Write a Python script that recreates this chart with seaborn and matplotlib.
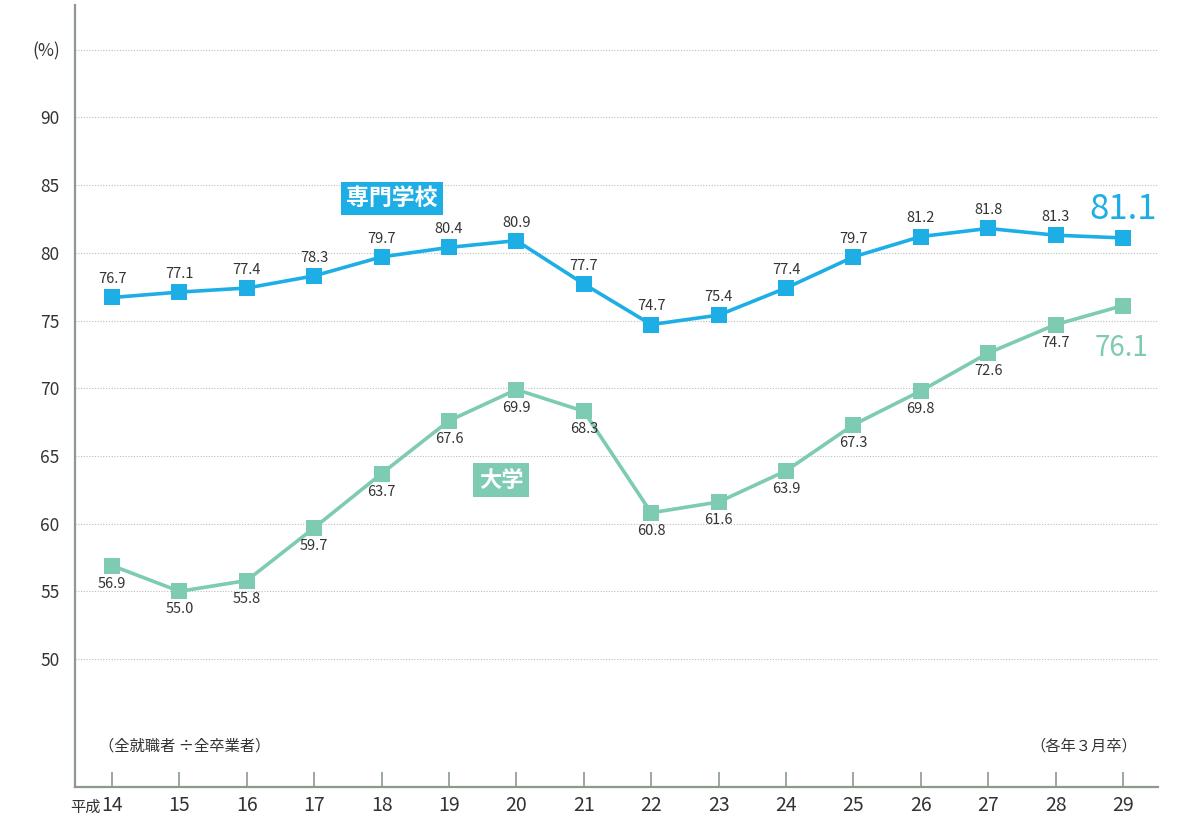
import pandas as pd
import numpy as np
import matplotlib.pyplot as plt
import seaborn as sns

sns.set_style("white")
plt.rcParams['font.family'] = ['Noto Sans CJK JP', 'DejaVu Sans']

# data (平成 year, % employed)
years = list(range(14, 30))
senmon = [76.7, 77.1, 77.4, 78.3, 79.7, 80.4, 80.9, 77.7, 74.7, 75.4, 77.4, 79.7, 81.2, 81.8, 81.3, 81.1]
daigaku = [56.9, 55.0, 55.8, 59.7, 63.7, 67.6, 69.9, 68.3, 60.8, 61.6, 63.9, 67.3, 69.8, 72.6, 74.7, 76.1]
y_ticks = [50, 55, 60, 65, 70, 75, 80, 85, 90, 95]
y_tick_labels = ['50', '55', '60', '65', '70', '75', '80', '85', '90', '(%)']

blue = '#1eaee6'
green = '#7ecbb4'
axis_col = '#8c998c'
txt = '#333333'

df = pd.DataFrame({'year': years, '専門学校': senmon, '大学': daigaku})

fig = plt.figure(figsize=(11.87, 8.21), dpi=100)
ax = fig.add_axes([0.0632, 0.0414, 0.9124, 0.9525])

sns.lineplot(data=df, x='year', y='専門学校', ax=ax, color=blue, lw=2.6,
             marker='s', markersize=11, markeredgewidth=0)
sns.lineplot(data=df, x='year', y='大学', ax=ax, color=green, lw=2.6,
             marker='s', markersize=11, markeredgewidth=0)

ax.set_xlim(13.45, 29.52)
ax.set_ylim(40.55, 98.3)
ax.set_xlabel('')
ax.set_ylabel('')

# gridlines
for v in y_ticks:
    ax.axhline(v, color='#b8c0b8', lw=0.8, ls=(0, (1, 1.5)), zorder=0)

ax.set_yticks(y_ticks)
ax.set_yticklabels(y_tick_labels, fontsize=12.5, color=txt)
ax.tick_params(axis='y', length=0, pad=11)
ax.set_xticks(years)
ax.set_xticklabels([str(y) for y in years], fontsize=14, color=txt)
ax.tick_params(axis='x', bottom=True, direction='in', length=11, width=1.2, color=axis_col, pad=6)
ax.text(13.83, -0.026, '平成', transform=ax.get_xaxis_transform(), ha='right', va='center',
        fontsize=11, color=txt)

for s in ['top', 'right']:
    ax.spines[s].set_visible(False)
for s in ['left', 'bottom']:
    ax.spines[s].set_color(axis_col)
    ax.spines[s].set_linewidth(1.6)

# value labels
for x, v in zip(years[:-1], senmon[:-1]):
    ax.annotate(f'{v:.1f}', (x, v), xytext=(0, 8), textcoords='offset points',
                ha='center', va='bottom', fontsize=10.5, color=txt)
for x, v in zip(years[:-1], daigaku[:-1]):
    ax.annotate(f'{v:.1f}', (x, v), xytext=(0, -8), textcoords='offset points',
                ha='center', va='top', fontsize=10.5, color=txt)

ax.annotate(f'{senmon[-1]:.1f}', (years[-1], senmon[-1]), xytext=(0, 8), textcoords='offset points',
            ha='center', va='bottom', fontsize=25, color=blue)
ax.annotate(f'{daigaku[-1]:.1f}', (years[-1], daigaku[-1]), xytext=(-1, -20), textcoords='offset points',
            ha='center', va='top', fontsize=20, color=green)

# series name boxes
ax.text(18.15, 84.0, '専門学校', ha='center', va='center', fontsize=16.5, fontweight='bold',
        color='white', bbox=dict(boxstyle='square,pad=0.22', fc=blue, ec='none'))
ax.text(19.77, 63.2, '大学', ha='center', va='center', fontsize=16, fontweight='bold',
        color='white', bbox=dict(boxstyle='square,pad=0.25', fc=green, ec='none'))

ax.text(15.08, 43.6, '（全就職者 ÷全卒業者）', ha='center', va='center', fontsize=11, color=txt)
ax.text(28.42, 43.6, '（各年３月卒）', ha='center', va='center', fontsize=11, color=txt)

fig.savefig('out.png', dpi=100)
